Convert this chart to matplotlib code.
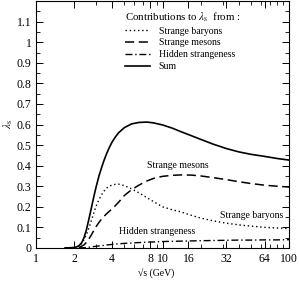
import numpy as np
import matplotlib
matplotlib.use("Agg")
import matplotlib.pyplot as plt
from matplotlib.ticker import LogLocator, NullFormatter, FixedLocator, FixedFormatter, MultipleLocator

plt.rcParams['font.family'] = ['Liberation Serif', 'DejaVu Serif']
plt.rcParams['mathtext.fontset'] = 'stix'

# sqrt(s) in GeV
energy = [1.7, 1.9, 2.0, 2.1, 2.2, 2.3, 2.4, 2.5, 2.6, 2.7, 2.8, 2.9, 3.0, 3.15, 3.3,
          3.45, 3.6, 3.8, 4.0, 4.25, 4.5, 5.0, 5.7, 6.5, 7.5, 8.5, 10, 12, 14, 17, 20,
          25, 32, 40, 50, 64, 80, 100]

baryons = [0, 0, 0.001, 0.004, 0.01, 0.022, 0.04, 0.063, 0.09, 0.12, 0.15, 0.18,
           0.205, 0.235, 0.258, 0.276, 0.29, 0.3, 0.306, 0.309, 0.31, 0.303, 0.287,
           0.268, 0.245, 0.225, 0.2, 0.185, 0.175, 0.158, 0.145, 0.132, 0.12, 0.112,
           0.106, 0.1, 0.097, 0.094]
mesons = [0, 0, 0, 0.001, 0.003, 0.008, 0.015, 0.026, 0.04, 0.056, 0.073, 0.09,
          0.105, 0.124, 0.14, 0.153, 0.165, 0.178, 0.19, 0.206, 0.222, 0.255, 0.283,
          0.305, 0.325, 0.338, 0.348, 0.353, 0.355, 0.354, 0.35, 0.342, 0.332, 0.322,
          0.313, 0.305, 0.3, 0.296]
hidden = [0, 0, 0, 0, 0, 0.0005, 0.001, 0.002, 0.003, 0.0045, 0.006, 0.007, 0.008,
          0.0095, 0.011, 0.0125, 0.014, 0.0155, 0.017, 0.0185, 0.02, 0.022, 0.024,
          0.026, 0.028, 0.029, 0.031, 0.032, 0.033, 0.034, 0.035, 0.036, 0.037, 0.038,
          0.038, 0.039, 0.039, 0.04]
total = [0, 0.001, 0.002, 0.005, 0.012, 0.025, 0.05, 0.085, 0.13, 0.175, 0.22, 0.262,
         0.3, 0.35, 0.39, 0.425, 0.455, 0.488, 0.515, 0.54, 0.56, 0.585, 0.603, 0.61,
         0.612, 0.608, 0.598, 0.582, 0.565, 0.545, 0.528, 0.505, 0.483, 0.467, 0.455,
         0.445, 0.435, 0.427]

xtick_vals = [1, 2, 4, 8, 10, 16, 32, 64, 100]
xtick_labels = ['1', '2', '4', '8', '10', '16', '32', '64', '100']
ytick_vals = [0, 0.1, 0.2, 0.3, 0.4, 0.5, 0.6, 0.7, 0.8, 0.9, 1, 1.1]
ytick_labels = ['0', '0.1', '0.2', '0.3', '0.4', '0.5', '0.6', '0.7', '0.8', '0.9', '1', '1.1']

fig = plt.figure(figsize=(2.99, 2.83), dpi=100)
ax = fig.add_axes([0.120, 0.124, 0.847, 0.872])

ax.plot(energy, baryons, color='black', lw=1.0, linestyle=(0, (1, 2)), label='Strange baryons')
ax.plot(energy, mesons, color='black', lw=1.1, linestyle=(0, (6, 3)), label='Strange mesons')
ax.plot(energy, hidden, color='black', lw=1.0, linestyle=(0, (5, 2, 1, 2)), label='Hidden strangeness')
ax.plot(energy, total, color='black', lw=1.2, label='Sum')

ax.set_xscale('log')
ax.set_xlim(1, 100)
ax.set_ylim(0, 1.2)

ax.xaxis.set_major_locator(FixedLocator(xtick_vals))
ax.xaxis.set_major_formatter(FixedFormatter(xtick_labels))
ax.xaxis.set_minor_locator(LogLocator(base=10, subs=np.arange(2, 10)))
ax.xaxis.set_minor_formatter(NullFormatter())
ax.yaxis.set_major_locator(FixedLocator(ytick_vals))
ax.yaxis.set_major_formatter(FixedFormatter(ytick_labels))
ax.yaxis.set_minor_locator(MultipleLocator(0.05))

ax.tick_params(which='both', direction='in', top=True, right=True, labelsize=8.5)
ax.tick_params(axis='x', pad=4)
ax.tick_params(axis='y', pad=3)
ax.tick_params(which='major', length=5, width=0.7)
ax.tick_params(which='minor', length=3, width=0.6)
for sp in ax.spines.values():
    sp.set_linewidth(0.8)

# axis titles
fig.text(156 / 299, 1 - 273 / 283, '\u221as (GeV)', fontsize=7, ha='center', va='center')
ax.set_ylabel(r'$\lambda_{\rm s}$', fontsize=8, labelpad=1)

ax.text(13.2, 0.40, 'Strange mesons', fontsize=7, ha='center', va='center')
ax.text(51, 0.16, 'Strange baryons', fontsize=7, ha='center', va='center')
ax.text(9.0, 0.079, 'Hidden strangeness', fontsize=7, ha='center', va='center')

leg = ax.legend(loc='upper left', bbox_to_anchor=(0.32, 0.995), frameon=False, fontsize=7,
                title=r'Contributions to $\lambda_{\rm s}$  from :', title_fontsize=7.8,
                handlelength=2.6, handletextpad=0.9, labelspacing=0.3, borderpad=0.3)
leg._legend_box.align = 'left'

fig.savefig('out.png', dpi=100)
